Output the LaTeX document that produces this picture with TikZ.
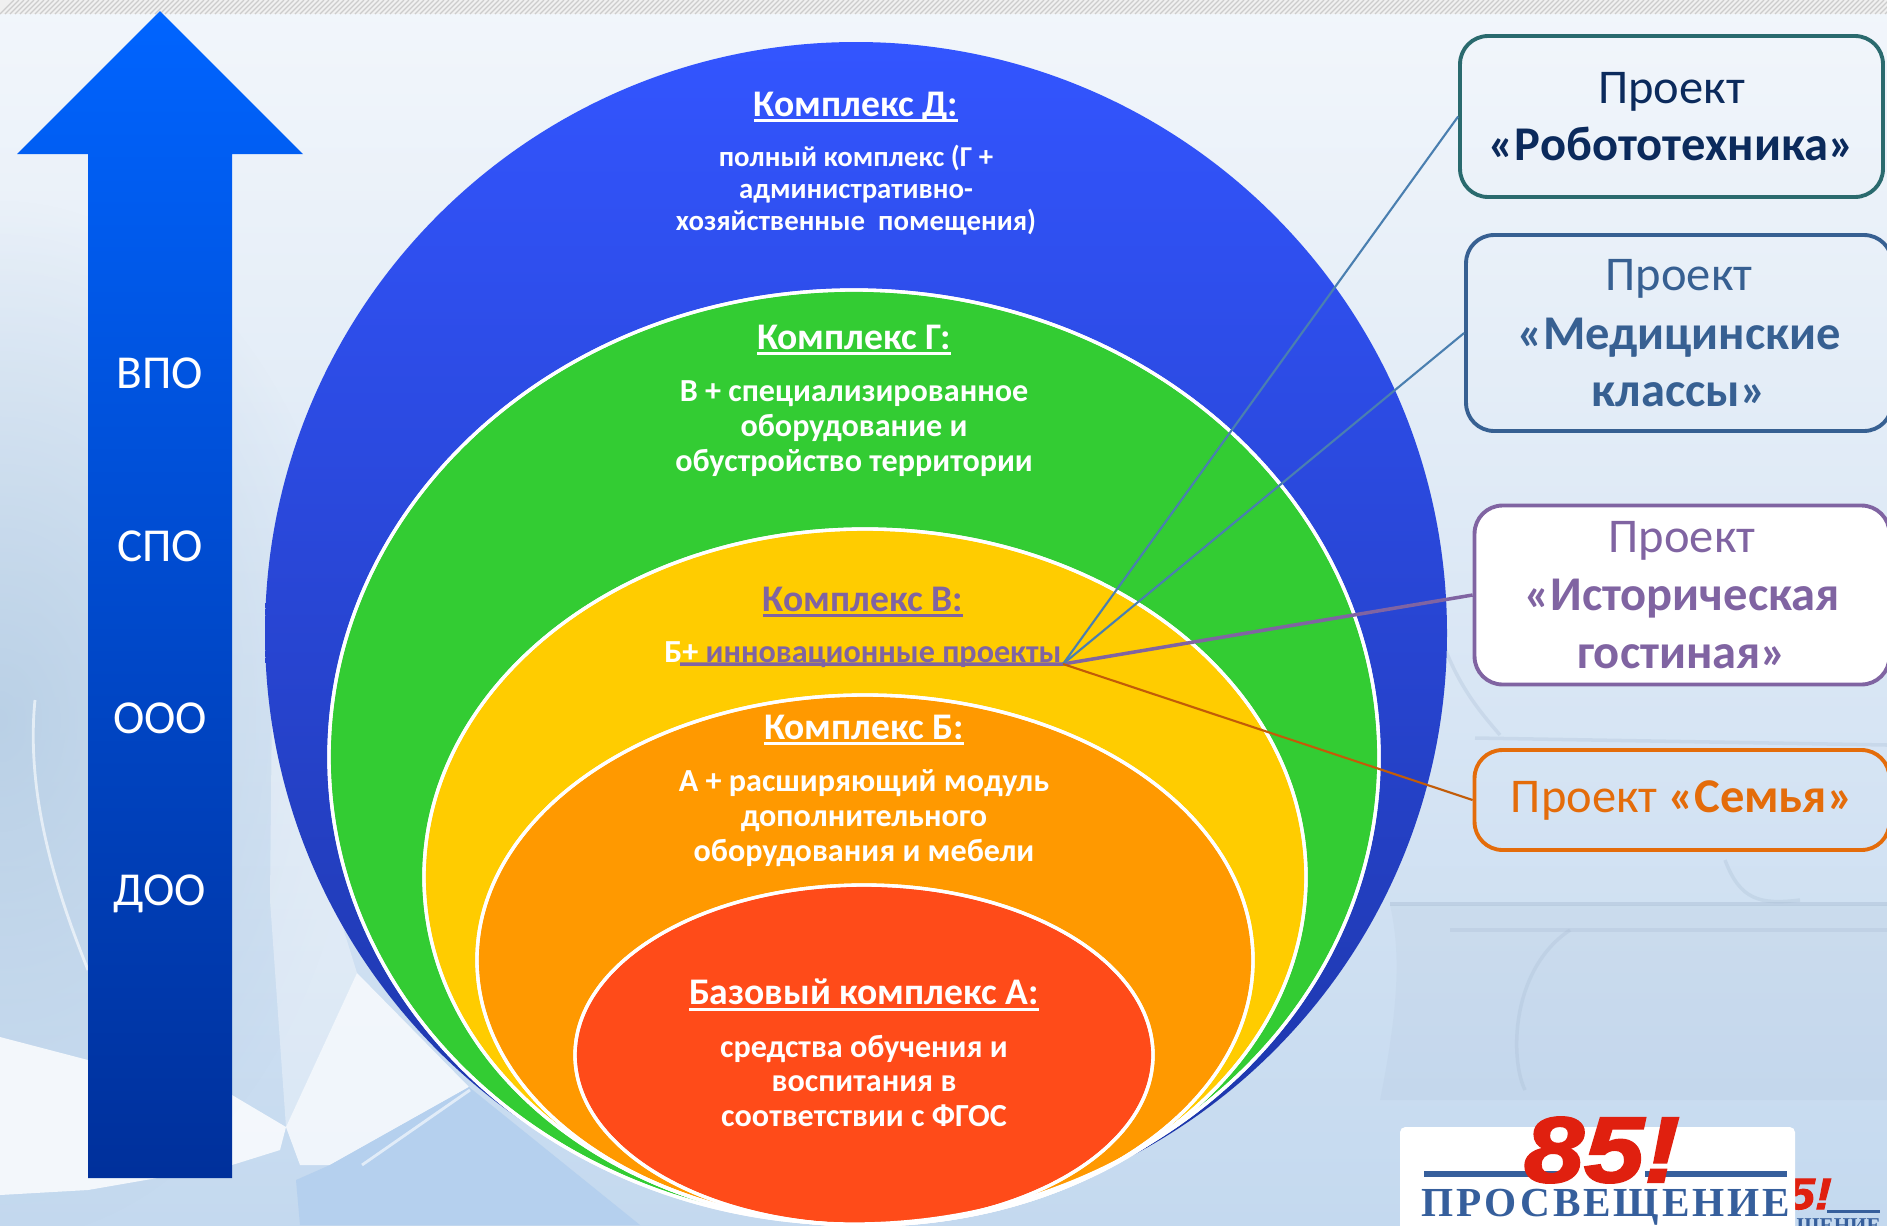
\documentclass[tikz,border=0pt]{standalone}
\usepackage{fontspec}
\setmainfont{Carlito}
\newfontfamily\logosans[FakeBold=2.2,FakeStretch=1.16]{Liberation Sans}
\newfontfamily\logoserif[LetterSpace=7]{Liberation Serif}
\newfontfamily\logoserifb{Liberation Serif}
\usetikzlibrary{fadings}
\tikzfading[name=softblob,inner color=transparent!0,outer color=transparent!100]
\newcommand\ulx[2][1.6pt]{\leavevmode\setbox0\hbox{#2}\rlap{\raisebox{-3.4pt}{\rule{\wd0}{#1}}}\box0 }
\newcommand\fs[2]{\fontsize{#1}{#2}\selectfont}
\definecolor{cblue}{HTML}{3355FF}
\definecolor{cblued}{HTML}{1C35A5}
\definecolor{cgreen}{HTML}{33CC33}
\definecolor{cyellow}{HTML}{FFCC00}
\definecolor{corange}{HTML}{FF9900}
\definecolor{cred}{HTML}{FF4B19}
\definecolor{cpurple}{HTML}{8064A2}
\definecolor{corg}{HTML}{E46C0A}
\definecolor{cmed}{HTML}{376092}
\definecolor{clink}{HTML}{4A7FB0}
\definecolor{cnavy}{HTML}{0B2A5C}
\definecolor{cteal}{HTML}{2A6A6E}
\definecolor{lred}{HTML}{E0200F}
\definecolor{lblue}{HTML}{365F9C}
\definecolor{bgtop}{HTML}{F2F6FB}
\definecolor{bgmid}{HTML}{E0EAF5}
\definecolor{bgbot}{HTML}{C4D9EF}
\definecolor{bgleft}{HTML}{B5CDE4}
\definecolor{bgdeep}{HTML}{B5D0EE}
\definecolor{bgline}{HTML}{A9BDD3}
\definecolor{arrtop}{HTML}{0064FF}
\definecolor{arrmid}{HTML}{0049CC}
\definecolor{arrbot}{HTML}{00309B}
\tikzset{
  ring/.style={draw=white,line width=1.9pt},
  title/.style={font=\bfseries\fs{21.4}{26},text=white,inner sep=0pt,align=center},
  body/.style={text=white,inner sep=0pt,align=center,font=\bfseries\fs{16.4}{18.2}},
  bodyb/.style={text=white,inner sep=0pt,align=center,font=\bfseries\fs{18.3}{19.9}},
  level/.style={text=white,inner sep=0pt,font=\fs{26.9}{30}},
  proj/.style={rectangle,rounded corners=0.56cm,draw,line width=2.2pt,inner sep=0pt,align=center,font=\fs{27.6}{32.6}},
  link/.style={line width=1.2pt}
}
\begin{document}
\begin{tikzpicture}[x=0.02cm,y=-0.02cm]
\clip (0,0) rectangle (1887,1225);
% background
\shade[top color=bgtop,middle color=bgmid,bottom color=bgbot] (0,0) rectangle (1887,1225);
\fill[bgleft,path fading=softblob,opacity=0.85] (0,720) ellipse [x radius=360,y radius=520];
% open book, lower left
\fill[white,opacity=0.8] (0,1037) -- (88,1060) -- (232,1095) -- (286,1127) -- (280,1150) -- (232,1165) -- (88,1190) -- (0,1195) -- cycle;
\fill[white,opacity=0.75] (286,1127) -- (357,973) -- (469,1087) -- (330,1165) -- (300,1165) -- cycle;
\fill[white,opacity=0.35] (272,700) -- (357,973) -- (286,1127) -- (270,900) -- cycle;
\fill[bgdeep] (300,1225) -- (296,1180) -- (330,1165) -- (469,1087) -- (640,1225) -- cycle;
\draw[white,opacity=0.6,line width=1.6pt] (35,700) .. controls (25,800) and (60,900) .. (88,970);
\draw[white,opacity=0.6,line width=1.6pt] (362,1165) -- (470,1090);
% books, lower right
\fill[bgline,opacity=0.13] (1390,905) -- (1887,905) -- (1887,1100) -- (1380,1100) .. controls (1400,1000) and (1400,950) .. (1390,905);
\draw[bgline,opacity=0.45,line width=2pt] (1390,904) -- (1887,904);
\draw[bgline,opacity=0.3,line width=2pt] (1450,930) -- (1887,930);
\draw[bgline,opacity=0.3,line width=2pt] (1475,738) -- (1887,745);
\draw[bgline,opacity=0.3,line width=2pt] (1420,510) .. controls (1425,650) and (1470,700) .. (1500,735);
\draw[bgline,opacity=0.3,line width=2pt] (1570,930) .. controls (1510,970) and (1510,1060) .. (1525,1090);
\draw[bgline,opacity=0.3,line width=2pt] (1725,860) .. controls (1740,900) and (1760,905) .. (1800,900);
% hatched top strip
\fill[white!94!black] (0,0) rectangle (1887,14);
\foreach \i in {0,5,...,1900} \draw[white!80!black,line width=0.7pt] (\i,14) -- ++(14,-14);
% arrow
\shade[top color=arrtop,middle color=arrmid,bottom color=arrbot] (160,11) -- (303,154) -- (232,154) -- (232,1178) -- (88,1178) -- (88,154) -- (17,154) -- cycle;
\node[level] (vpo) at (160,373) {ВПО};
\node[level] (spo) at (160,546) {СПО};
\node[level] (ooo) at (160,718) {ООО};
\node[level] (doo) at (160,894) {ДОО};
% nested ellipses
\shade[top color=cblue,middle color=cblue!88!cblued,bottom color=cblued] (856,633) ellipse [x radius=591,y radius=591];
\fill[ring,fill=cgreen] (854,757) ellipse [x radius=525,y radius=467];
\fill[ring,fill=cyellow] (865,877) ellipse [x radius=441,y radius=348];
\fill[ring,fill=corange] (865,960) ellipse [x radius=388,y radius=265];
\fill[ring,fill=cred] (864,1055) ellipse [x radius=289,y radius=170];
\draw[ring] (854,757) ellipse [x radius=525,y radius=467];
\draw[ring] (865,877) ellipse [x radius=441,y radius=348];
\draw[ring] (865,960) ellipse [x radius=388,y radius=265];
\draw[ring] (864,1055) ellipse [x radius=289,y radius=170];
% texts
\node[title] (td) at (856,107) {\ulx{Комплекс Д:}};
\node[body] (bd) at (856,190) {полный комплекс (Г +\\административно-\\хозяйственные\ \ помещения)};
\node[title] (tg) at (854,340) {\ulx{Комплекс Г:}};
\node[bodyb] (bg) at (854,429) {В + специализированное\\оборудование и\\обустройство территории};
\node[title,text=cpurple] (tv) at (863,602) {\color{cpurple}\ulx{Комплекс В:}};
\node[bodyb] (bv) at (863,655) {\textcolor{white}{Б+} \textcolor{cpurple}{инновационные проекты}};
\node[title] (tb) at (864,730) {\ulx{Комплекс Б:}};
\node[bodyb] (bb) at (864,818) {А + расширяющий модуль\\дополнительного\\оборудования и мебели};
\node[title] (ta) at (864,995) {\ulx{Базовый комплекс А:}};
\node[bodyb] (ba) at (864,1081) {средства обучения и\\воспитания в\\соответствии с ФГОС};
% project boxes
\node[proj,draw=cteal,text=cnavy,minimum width=8.46cm,minimum height=3.22cm] (pr) at (1671.5,116.5) {\raisebox{-1.4pt}{Проект}\\\raisebox{-1.4pt}{\textbf{«Робототехника»}}};
\node[proj,draw=cmed,text=cmed,minimum width=8.52cm,minimum height=3.92cm] (pm) at (1679,333) {Проект\\\raisebox{-1pt}{\textbf{«Медицинские}}\\\raisebox{-1pt}{\textbf{классы»}}};
\node[proj,draw=cpurple,text=cpurple,fill=white,minimum width=8.3cm,minimum height=3.58cm] (pi) at (1682,595) {Проект\\\raisebox{-.6pt}{\textbf{«Историческая}}\\\raisebox{-1pt}{\textbf{гостиная»}}};
\node[proj,draw=corg,text=corg,minimum width=8.3cm,minimum height=2cm] (ps) at (1682,800) {\raisebox{-1.4pt}{Проект \textbf{«Семья»}}};
% connectors
\coordinate (hub) at (1063,664);
\coordinate (ustart) at (680,664);
\draw[link,draw=cpurple,line width=2pt] (ustart) -- (hub) -- (pi.west);
\draw[link,draw=clink] (hub) -- (pr.west);
\draw[link,draw=clink] (hub) -- (pm.west);
\draw[link,draw=corg!85!black] (hub) -- (ps.west);
% logo: second copy behind
\node[inner sep=0pt,text=lred,font=\logosans\bfseries\itshape\fs{25}{25}] (l5) at (1795,1194) {85!};
\fill[lblue] (1827,1210) rectangle (1880,1213);
\node[inner sep=0pt,text=lblue,font=\logoserifb\bfseries\fs{12}{12},anchor=north east] (lsub) at (1881,1218) {ПРОСВЕЩЕНИЕ};
% logo: front
\fill[white,rounded corners=3pt] (1400,1127) rectangle (1795,1240);
\fill[lblue] (1424,1171) rectangle (1565,1177);
\fill[lblue] (1645,1171) rectangle (1787,1177);
\node[inner sep=0pt,text=lred,font=\logosans\bfseries\itshape\fs{53}{53}] (l85) at (1602,1150) {85!};
\node[inner sep=0pt,text=lblue,font=\logoserif\bfseries\fs{23.5}{24}] (lpr) at (1606,1207) {ПРОСВЕЩЕНИЕ};
\end{tikzpicture}
\end{document}
